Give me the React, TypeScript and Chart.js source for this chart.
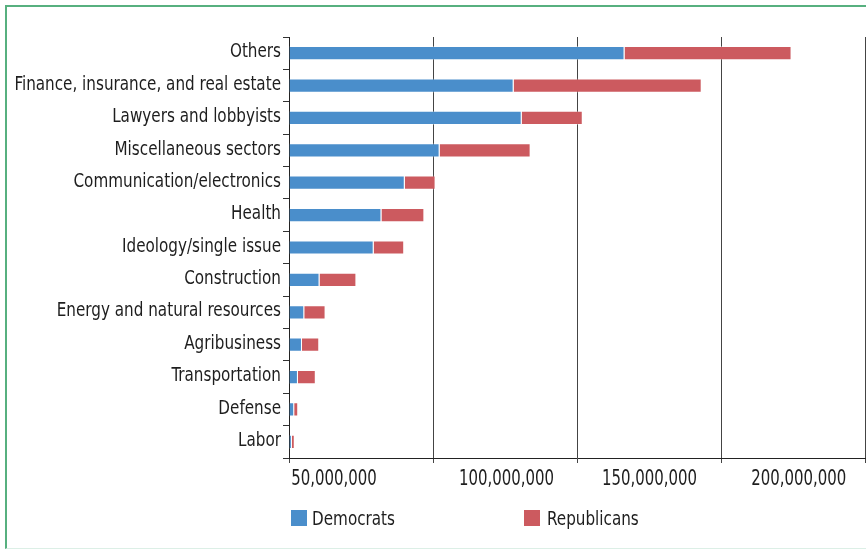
import React, { useEffect, useRef } from "react";
import { Chart, registerables } from "chart.js";

Chart.register(...registerables);

const categories = [
  "Others",
  "Finance, insurance, and real estate",
  "Lawyers and lobbyists",
  "Miscellaneous sectors",
  "Communication/electronics",
  "Health",
  "Ideology/single issue",
  "Construction",
  "Energy and natural resources",
  "Agribusiness",
  "Transportation",
  "Defense",
  "Labor",
];

const democrats = [
  116_500_000, 78_000_000, 80_800_000, 52_300_000, 40_200_000, 32_100_000,
  29_400_000, 10_600_000, 5_300_000, 4_500_000, 3_100_000, 1_800_000, 1_000_000,
];

const republicans = [
  58_000_000, 65_300_000, 21_200_000, 31_600_000, 10_700_000, 14_900_000,
  10_600_000, 12_800_000, 7_400_000, 6_000_000, 6_200_000, 1_400_000, 1_000_000,
];

const seriesNames = ["Democrats", "Republicans"];
const seriesColors = ["#4a8ecb", "#cc5a5f"];

const xMax = 200_000_000;
const xGridStep = 50_000_000;
const xTickLabels = ["50,000,000", "100,000,000", "150,000,000", "200,000,000"];
const xTickLabelValues = [15_600_000, 75_500_000, 125_200_000, 177_000_000];

const FONT = "'DejaVu Sans Condensed', 'DejaVu Sans', sans-serif";
const TEXT_COLOR = "#1e1e1e";
const NARROW = 0.845;
const NARROW_NUM = 0.79;

// Draws the axis texts in a condensed style, placed through the chart's own scales.
const condensedLabels = {
  id: "condensedLabels",
  afterDraw(chart: any) {
    const { ctx, chartArea, scales } = chart;
    const y = scales.y;
    const x = scales.x;
    ctx.save();
    ctx.fillStyle = TEXT_COLOR;
    ctx.textBaseline = "middle";

    // category labels
    ctx.font = `20px ${FONT}`;
    ctx.textAlign = "right";
    categories.forEach((label, i) => {
      const py = y.getPixelForValue(i);
      ctx.save();
      ctx.translate(chartArea.left - 8, py - 1);
      ctx.scale(NARROW, 1);
      ctx.fillText(label, 0, 0);
      ctx.restore();
    });

    // value labels
    ctx.font = `21px ${FONT}`;
    ctx.textAlign = "center";
    xTickLabels.forEach((label, i) => {
      const px = x.getPixelForValue(xTickLabelValues[i]);
      ctx.save();
      ctx.translate(px, chartArea.bottom + 22);
      ctx.scale(NARROW_NUM, 1);
      ctx.fillText(label, 0, 0);
      ctx.restore();
    });
    ctx.restore();
  },
};

export default function App() {
  const canvasRef = useRef<HTMLCanvasElement | null>(null);

  useEffect(() => {
    if (!canvasRef.current) return;
    const chart = new Chart(canvasRef.current, {
      type: "bar",
      data: {
        labels: categories,
        datasets: [
          {
            label: seriesNames[0],
            data: democrats,
            backgroundColor: seriesColors[0],
            borderColor: "rgba(255,255,255,0.35)",
            borderWidth: 1,
          },
          {
            label: seriesNames[1],
            data: republicans,
            backgroundColor: seriesColors[1],
            borderColor: "rgba(255,255,255,0.35)",
            borderWidth: 1,
          },
        ],
      },
      plugins: [condensedLabels],
      options: {
        indexAxis: "y",
        animation: false,
        responsive: false,
        maintainAspectRatio: false,
        layout: { padding: { top: 37, right: 1, left: 0, bottom: 86 } },
        datasets: {
          bar: { categoryPercentage: 1, barPercentage: 0.44 },
        },
        plugins: {
          legend: { display: false },
          tooltip: { enabled: false },
          title: { display: false },
        },
        scales: {
          y: {
            stacked: true,
            offset: true,
            afterFit: (scale: any) => {
              scale.width = 289;
            },
            grid: {
              display: true,
              offset: true,
              drawOnChartArea: false,
              drawTicks: true,
              tickLength: 6,
              color: "#333",
            },
            border: { display: true, color: "#222", width: 1 },
            ticks: { display: false },
          },
          x: {
            stacked: true,
            position: "bottom",
            min: 0,
            max: xMax,
            afterFit: (scale: any) => {
              scale.height = 5;
            },
            ticks: { stepSize: xGridStep, display: false },
            grid: {
              display: true,
              drawOnChartArea: true,
              drawTicks: true,
              tickLength: 5,
              color: "#444",
              lineWidth: 1,
            },
            border: { display: true, color: "#222", width: 1 },
          },
        },
      },
    });
    return () => chart.destroy();
  }, []);

  const legendText: React.CSSProperties = {
    position: "absolute",
    top: 506,
    fontFamily: FONT,
    fontSize: 20,
    lineHeight: "24px",
    color: TEXT_COLOR,
    whiteSpace: "nowrap",
    transform: `scaleX(${NARROW})`,
    transformOrigin: "left center",
  };

  return (
    <div
      style={{
        position: "absolute",
        left: 0,
        top: 0,
        width: 866,
        height: 549,
        overflow: "hidden",
        background: "#fff",
      }}
    >
      <div
        style={{
          position: "absolute",
          left: 5,
          top: 5,
          width: 900,
          height: 541,
          borderLeft: "2px solid #57b07f",
          borderTop: "2px solid #57b07f",
          borderBottom: "1px solid #dcefe6",
        }}
      />
      <canvas
        ref={canvasRef}
        width={866}
        height={549}
        style={{ position: "absolute", left: 0, top: 0, width: 866, height: 549 }}
      />
      <div style={{ position: "absolute", left: 291, top: 510, width: 16, height: 16, background: seriesColors[0] }} />
      <div style={{ ...legendText, left: 312 }}>{seriesNames[0]}</div>
      <div style={{ position: "absolute", left: 524, top: 510, width: 16, height: 16, background: seriesColors[1] }} />
      <div style={{ ...legendText, left: 547 }}>{seriesNames[1]}</div>
    </div>
  );
}
